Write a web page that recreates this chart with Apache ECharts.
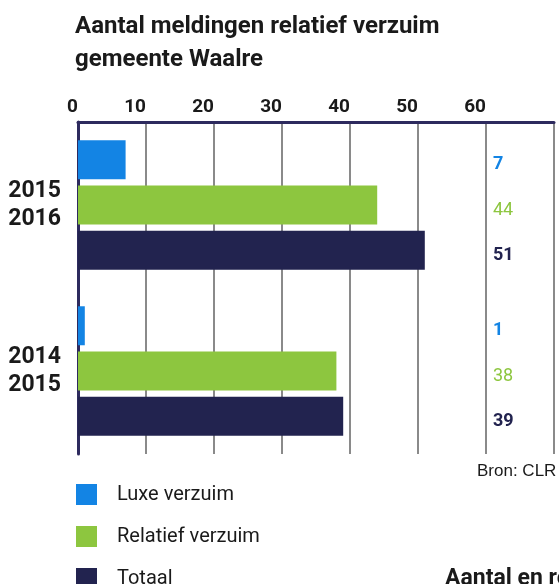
<!DOCTYPE html>
<html>
<head>
<meta charset="utf-8">
<script src="https://cdn.jsdelivr.net/npm/echarts@6/dist/echarts.min.js"></script>
<style>
  html, body { margin: 0; padding: 0; background: #fff; }
  #chart { width: 559px; height: 584px; }
</style>
</head>
<body>
<div id="chart"></div>
<script>
// data
var categories = ['2015\n2016', '2014\n2015'];
var luxe = [7, 1];
var relatief = [44, 38];
var totaal = [51, 39];
var xTicks = [0, 10, 20, 30, 40, 50, 60, 70];

(function () {
    var font = 'Roboto, "DejaVu Sans", sans-serif';
    // waardekolom rechts: afstand vanaf begin van de balk (x = 0)
    function valLabel(color, weight) {
        return {
            show: true,
            position: [415, '50%'],
            offset: [0, 5],
            verticalAlign: 'middle',
            align: 'left',
            color: color,
            fontWeight: weight,
            fontSize: 18,
            fontFamily: font
        };
    }
    var option = {
        animation: false,
        textStyle: { fontFamily: font },
        title: {
            text: 'Aantal meldingen relatief verzuim\ngemeente Waalre',
            left: 70,
            top: 5,
            textStyle: {
                fontFamily: font,
                fontSize: 24,
                fontWeight: 'bold',
                lineHeight: 33,
                color: '#1a1a1a'
            }
        },
        legend: {
            orient: 'vertical',
            left: 71,
            top: 479,
            height: 140,
            icon: 'rect',
            itemWidth: 21,
            itemHeight: 21,
            itemGap: 21,
            selectedMode: false,
            textStyle: {
                fontSize: 20,
                color: '#1a1a1a',
                padding: [0, 0, 0, 15],
                fontFamily: font
            },
            data: ['Luxe verzuim', 'Relatief verzuim', 'Totaal']
        },
        grid: {
            left: 78,
            right: 5,
            top: 122,
            bottom: 130
        },
        xAxis: {
            type: 'value',
            position: 'top',
            min: xTicks[0],
            max: xTicks[xTicks.length - 1],
            interval: 10,
            axisLine: { show: true, lineStyle: { color: '#2d2a5e', width: 3 } },
            axisTick: { show: false },
            splitLine: { lineStyle: { color: '#8a8a8a', width: 2 } },
            axisLabel: {
                showMaxLabel: false,
                align: 'right',
                margin: 5,
                fontSize: 19,
                fontWeight: 'bold',
                color: '#1a1a1a',
                fontFamily: font
            }
        },
        yAxis: {
            type: 'category',
            inverse: true,
            data: categories,
            axisLine: { show: true, lineStyle: { color: '#2d2a5e', width: 3 } },
            axisTick: { show: false },
            axisLabel: {
                margin: 17,
                fontSize: 23,
                fontWeight: 'bold',
                lineHeight: 28,
                padding: [14, 0, 0, 0],
                color: '#1a1a1a',
                fontFamily: font
            }
        },
        series: [
            {
                name: 'Luxe verzuim',
                type: 'bar',
                barWidth: 39,
                barGap: '16%',
                itemStyle: { color: '#1384e4' },
                label: valLabel('#1384e4', 'bold'),
                data: luxe
            },
            {
                name: 'Relatief verzuim',
                type: 'bar',
                barWidth: 39,
                barGap: '16%',
                itemStyle: { color: '#8dc63f' },
                label: valLabel('#8dc63f', 'normal'),
                data: relatief
            },
            {
                name: 'Totaal',
                type: 'bar',
                barWidth: 39,
                barGap: '16%',
                itemStyle: { color: '#22234f' },
                label: valLabel('#22234f', 'bold'),
                data: totaal
            }
        ],
        graphic: [
            {
                type: 'text',
                left: 477,
                top: 463,
                style: {
                    text: 'Bron: CLR',
                    font: '17px "Liberation Sans", Arial, sans-serif',
                    fill: '#1a1a1a'
                }
            },
            {
                type: 'text',
                left: 445,
                top: 568,
                style: {
                    text: 'Aantal en relatief',
                    font: 'bold 23px Roboto, sans-serif',
                    fill: '#1a1a1a'
                }
            }
        ]
    };
    var myChart = echarts.init(document.getElementById('chart'));
    myChart.setOption(option);
})();
</script>
</body>
</html>
